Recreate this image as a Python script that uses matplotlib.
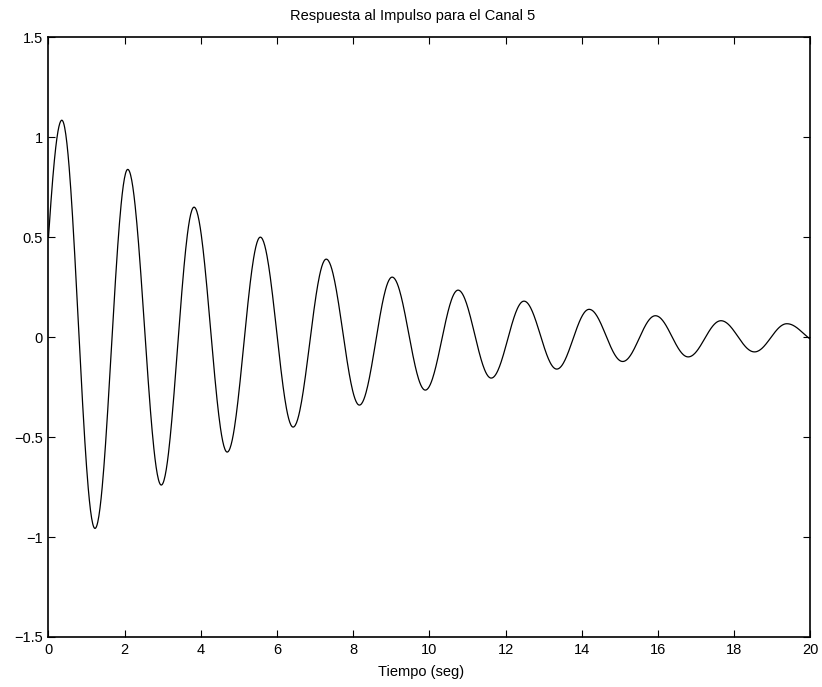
import numpy as np
import matplotlib
matplotlib.use("Agg")
import matplotlib.pyplot as plt

plt.rcParams['font.family'] = ['Liberation Sans', 'DejaVu Sans']

# curve: start, alternating peaks/troughs, end
t_start, y_start = 0.0, 0.50
ext_t = [0.35, 1.22, 2.08, 2.96, 3.82, 4.69, 5.56, 6.42, 7.29, 8.16, 9.02,
         9.89, 10.75, 11.62, 12.48, 13.34, 14.19, 15.07, 15.93, 16.79,
         17.65, 18.53, 19.38]
ext_y = [1.085, -0.957, 0.839, -0.74, 0.65, -0.575, 0.50, -0.45, 0.39, -0.34,
         0.30, -0.265, 0.235, -0.205, 0.18, -0.16, 0.139, -0.122, 0.107,
         -0.099, 0.082, -0.074, 0.067]
t_end, y_end = 20.0, -0.011

xticks = [0, 2, 4, 6, 8, 10, 12, 14, 16, 18, 20]
yticks = [-1.5, -1, -0.5, 0, 0.5, 1, 1.5]

half = (ext_t[-1] - ext_t[0]) / (len(ext_t) - 1)
w = np.pi / half


def arc(ta, ya, tb, yb, anchor_b=True):
    # cosine-shaped segment, anchored on the extremum end
    t = np.linspace(ta, tb, 60)
    if anchor_b:
        ph = w * (t - tb)
        ph0 = w * (ta - tb)
        y = yb + (ya - yb) * (1 - np.cos(ph)) / (1 - np.cos(ph0))
    else:
        ph = w * (t - ta)
        ph0 = w * (tb - ta)
        y = ya + (yb - ya) * (1 - np.cos(ph)) / (1 - np.cos(ph0))
    return t, y


ts, ys = [], []
t, y = arc(t_start, y_start, ext_t[0], ext_y[0], True)
ts.append(t); ys.append(y)
for i in range(len(ext_t) - 1):
    t = np.linspace(ext_t[i], ext_t[i + 1], 60)
    u = (t - ext_t[i]) / (ext_t[i + 1] - ext_t[i])
    y = ext_y[i] + (ext_y[i + 1] - ext_y[i]) * (1 - np.cos(np.pi * u)) / 2
    ts.append(t); ys.append(y)
t, y = arc(ext_t[-1], ext_y[-1], t_end, y_end, False)
ts.append(t); ys.append(y)
tt = np.concatenate(ts)
yy = np.concatenate(ys)

fig = plt.figure(figsize=(8.22, 6.87), dpi=100)
ax = fig.add_axes([0.059, 0.0728, 0.927, 0.873])
ax.plot(tt, yy, color='black', linewidth=0.9)

ax.set_xlim(0, 20)
ax.set_ylim(-1.5, 1.5)
ax.set_xticks(xticks)
ax.set_yticks(yticks)
ax.set_xticklabels([str(v) for v in xticks])
ax.set_yticklabels(['\u22121.5', '\u22121', '\u22120.5', '0', '0.5', '1', '1.5'])
ax.tick_params(direction='in', length=5, width=0.8, top=True, right=True,
               labelsize=10.5, pad=4)
for s in ax.spines.values():
    s.set_linewidth(1.2)

# MATLAB places these slightly left of the axes centre
ax.text(0.478, 1.0357, 'Respuesta al Impulso para el Canal 5', fontsize=10.5,
        ha='center', va='center', transform=ax.transAxes)
ax.text(0.489, -0.0584, 'Tiempo (seg)', fontsize=10.5,
        ha='center', va='center', transform=ax.transAxes)

fig.savefig('out.png', dpi=100)
